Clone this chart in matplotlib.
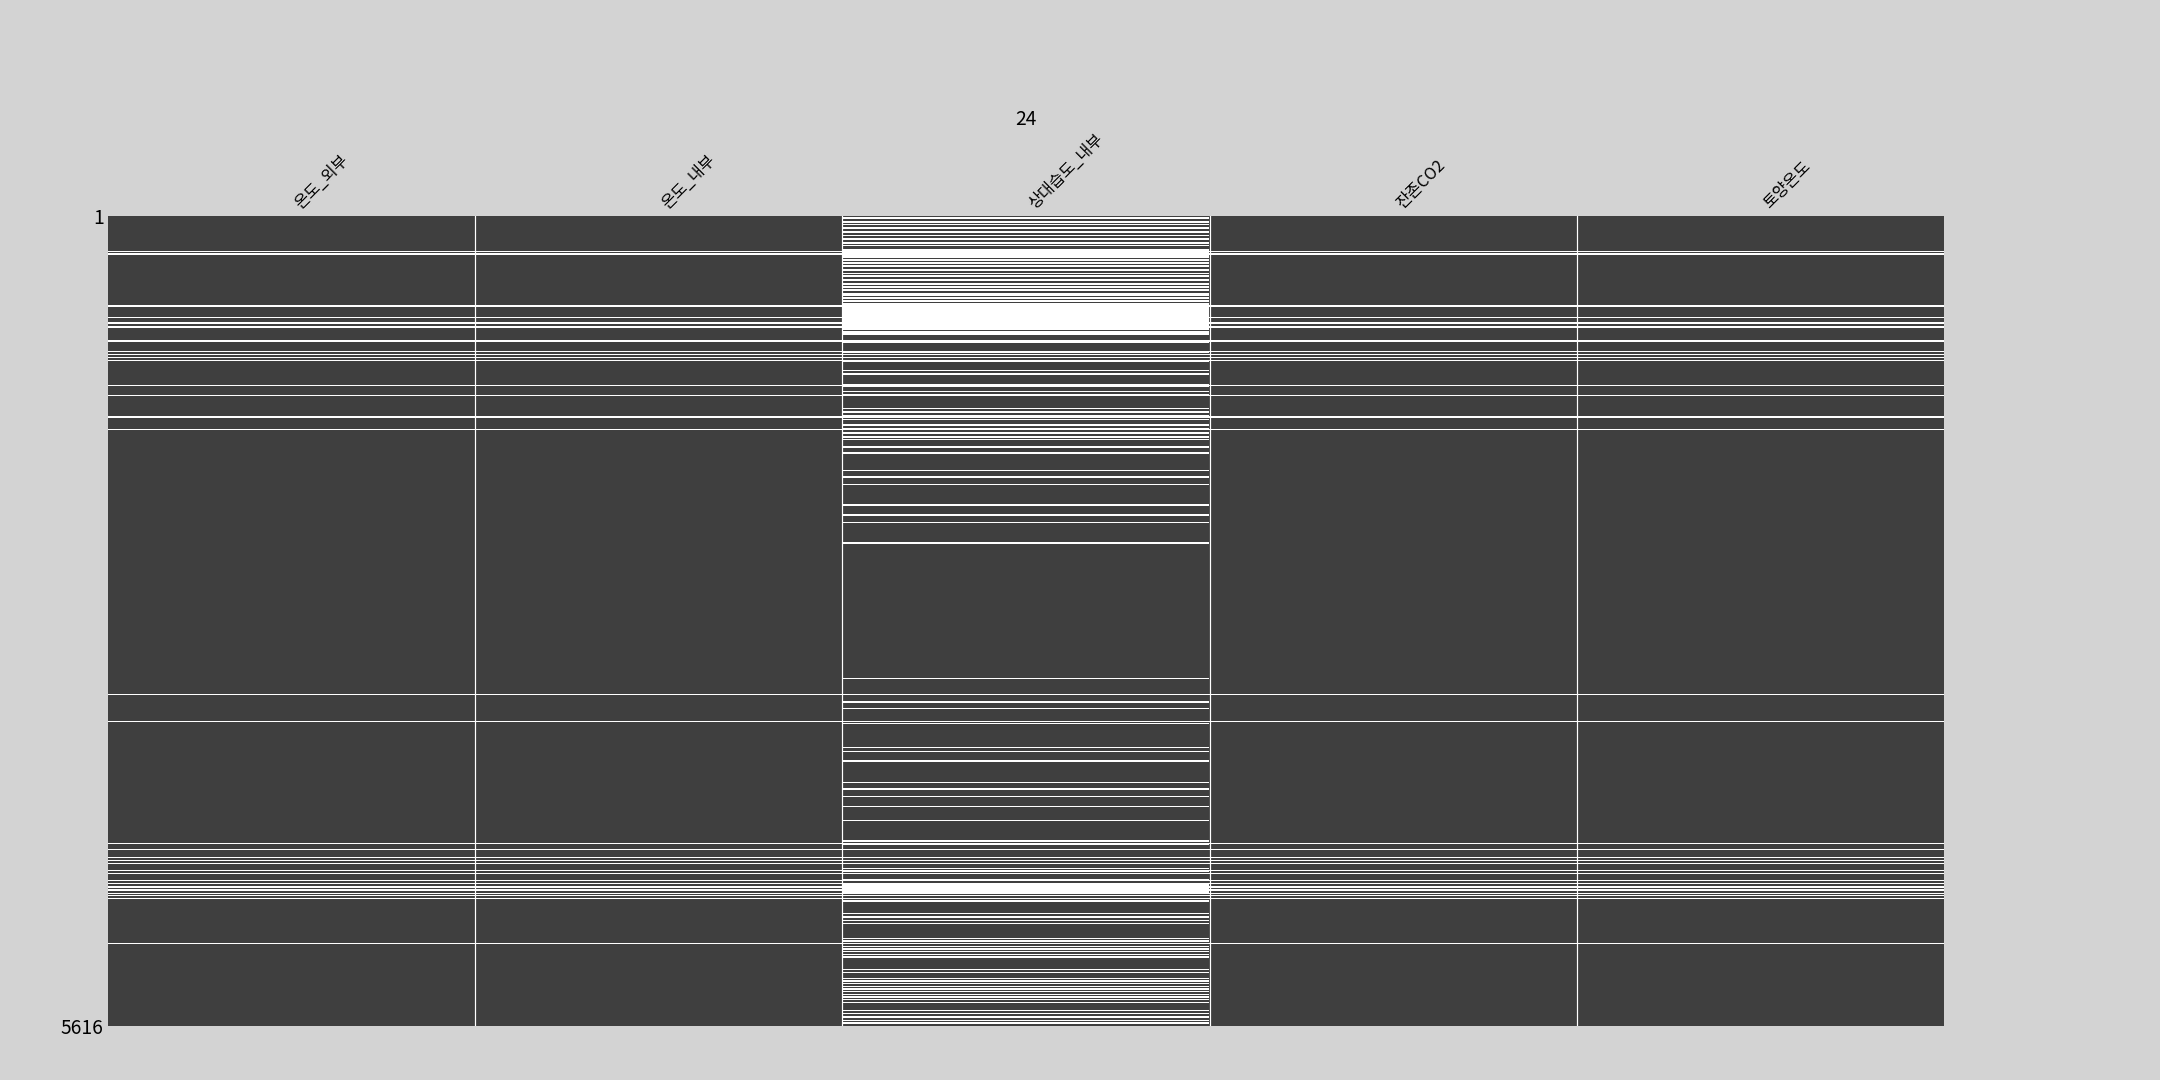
import numpy as np
import matplotlib
matplotlib.use("Agg")
import matplotlib.pyplot as plt

plt.rcParams['font.family'] = ['Noto Sans CJK KR', 'DejaVu Sans']

# columns of the dataframe and number of rows
columns = ['온도_외부', '온도_내부', '상대습도_내부', '잔존CO2', '토양온도']
n_rows = 5616
title = '24'

# row ranges (start, end) missing in every column
common_gaps = [(241, 249), (259, 267), (620, 628), (698, 706), (738, 746), (766, 774),
               (860, 872), (937, 945), (958, 966), (978, 986), (999, 1007), (1170, 1178),
               (1239, 1247), (1390, 1398), (1475, 1483), (3312, 3320), (3499, 3507),
               (4345, 4353), (4387, 4395), (4442, 4450), (4463, 4471), (4486, 4494),
               (4535, 4543), (4556, 4564), (4602, 4610), (4625, 4633), (4648, 4656),
               (4669, 4677), (4692, 4700), (4709, 4717), (4727, 4735), (5039, 5047)]

# extra row ranges missing only in 상대습도_내부
humidity_gaps = [(5, 18), (32, 46), (55, 62), (79, 92), (102, 116), (129, 139), (153, 166),
                 (180, 190), (199, 208), (226, 287), (296, 310), (319, 333), (342, 356),
                 (365, 379), (393, 402), (411, 425), (434, 448), (462, 476), (485, 499),
                 (508, 518), (531, 555), (564, 573), (582, 596), (605, 615), (619, 786),
                 (795, 827), (860, 878), (938, 947), (957, 966), (978, 987), (1003, 1012),
                 (1068, 1077), (1090, 1098), (1165, 1183), (1211, 1220), (1234, 1248),
                 (1331, 1340), (1354, 1363), (1377, 1395), (1405, 1414),
                 (1445, 1454), (1473, 1482), (1500, 1509), (1528, 1537), (1546, 1555),
                 (1597, 1606), (1639, 1648), (1759, 1768), (1806, 1815), (1856, 1865),
                 (2000, 2009), (2069, 2078), (2120, 2129), (2263, 2272),
                 (3201, 3210), (3313, 3321), (3366, 3374), (3412, 3420), (3500, 3508),
                 (3515, 3523), (3681, 3689), (3709, 3717), (3774, 3782), (3923, 3931),
                 (3969, 3977), (4020, 4028), (4089, 4097), (4186, 4194),
                 (4329, 4337), (4352, 4360), (4389, 4397), (4444, 4452), (4463, 4471),
                 (4486, 4494), (4518, 4526), (4537, 4545), (4555, 4563), (4597, 4605),
                 (4633, 4684), (4689, 4697), (4708, 4716), (4726, 4734), (4745, 4753),
                 (4833, 4841), (4856, 4864), (4879, 4887), (4902, 4910), (5004, 5012),
                 (5022, 5030), (5041, 5049), (5059, 5067), (5078, 5086), (5096, 5104),
                 (5115, 5123), (5133, 5141), (5221, 5229), (5240, 5248), (5281, 5289),
                 (5300, 5308), (5318, 5326), (5337, 5345), (5355, 5363), (5374, 5382),
                 (5392, 5400), (5410, 5418), (5429, 5437), (5447, 5455), (5503, 5511),
                 (5526, 5534), (5549, 5557), (5572, 5580), (5591, 5599)]

present = np.ones((n_rows, len(columns)), dtype=bool)
for s, e in common_gaps:
    present[s:e + 1, :] = False
for s, e in humidity_gaps:
    present[s:e + 1, 2] = False

dark = np.array([0.25, 0.25, 0.25])
white = np.array([1.0, 1.0, 1.0])
img = np.where(present[:, :, None], dark, white)

fig = plt.figure(figsize=(25, 12.5), dpi=86.4, facecolor='#d3d3d3')
ax = fig.add_axes([0.05, 0.05, 0.85, 0.75])
ax.imshow(img, aspect='auto', interpolation='nearest')
ax.grid(False)

for x in np.arange(len(columns) - 1) + 0.5:
    ax.axvline(x, linestyle='-', color='white', linewidth=1)

ax.xaxis.tick_top()
ax.set_xticks(range(len(columns)))
ax.set_xticklabels(columns, rotation=45, ha='left', fontsize=13.5, fontweight='light')
ax.set_yticks([0, n_rows - 1])
ax.set_yticklabels([1, n_rows], fontsize=16, fontweight='light')
ax.tick_params(axis='both', which='both', length=0)
for sp in ax.spines.values():
    sp.set_visible(False)

ax.set_title(title, fontsize=16, fontweight='light', pad=2)

fig.savefig('out.png', dpi=86.4, facecolor=fig.get_facecolor())
